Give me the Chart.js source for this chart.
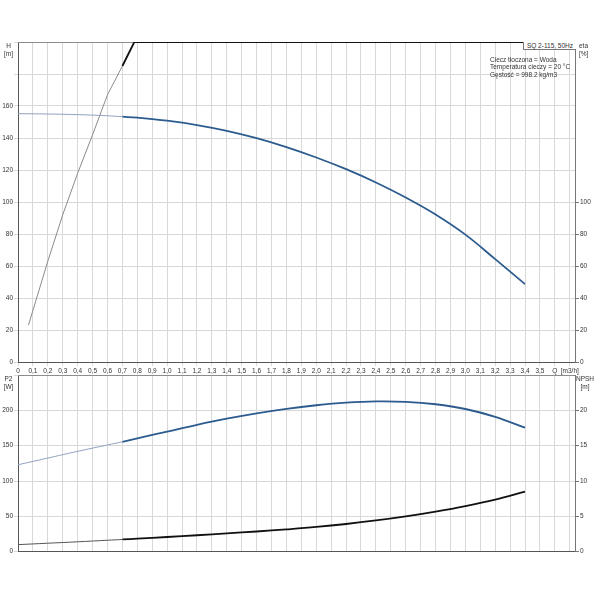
<!DOCTYPE html>
<html>
<head>
<meta charset="utf-8">
<script src="https://cdn.jsdelivr.net/npm/chart.js@4/dist/chart.umd.min.js"></script>
<style>
    body { margin: 0; background: #fff; }
    #wrap { position: relative; width: 600px; height: 600px; overflow: hidden; }
    canvas { position: absolute; left: 0; }
    #topChart { top: 0; }
    #bottomChart { top: 370px; }
    .lbl {
        position: absolute;
        font: 6.5px 'Liberation Sans', Arial, sans-serif;
        color: #333;
        line-height: 8px;
        white-space: nowrap;
    }
    .c { text-align: center; }
    #infoBox {
        position: absolute; left: 523px; top: 42px; width: 52px; height: 7px;
        border-left: 1px solid #777; border-bottom: 1px solid #777;
        font: 6.5px 'Liberation Sans', Arial, sans-serif; color: #333;
        line-height: 7.5px; text-align: center; background: #fff;
    }
</style>
</head>
<body>
<div id="wrap">
    <canvas id="topChart" width="600" height="380"></canvas>
    <canvas id="bottomChart" width="600" height="230"></canvas>

    <div class="lbl c" style="left:0;top:41.7px;width:17px">H<br>[m]</div>
    <div class="lbl" style="left:579px;top:41.7px">eta<br>[%]</div>
    <div class="lbl c" style="left:0;top:375px;width:17px">P2<br>[W]</div>
    <div class="lbl c" style="left:570px;top:375px;width:30px">NPSH<br>[m]</div>

    <div id="infoBox">SQ 2-115, 50Hz</div>
    <div class="lbl" style="left:490px;top:55.5px;line-height:7.5px">Ciecz tłoczona = Woda<br>Temperatura cieczy = 20 °C<br>Gęstość = 998.2 kg/m3</div>
</div>

<script>

// Q [m3/h] points for the pump curves
const flowQ = [0, 0.2, 0.4, 0.6, 0.7, 0.8, 1.0, 1.2, 1.4, 1.6, 1.8, 2.0, 2.2, 2.4, 2.6, 2.8, 3.0, 3.2, 3.4];
// H [m]
const headH = [155.2, 155.0, 154.6, 153.9, 153.3, 152.7, 150.8, 148.1, 144.5, 139.9, 134.3, 127.8, 120.5, 112.2, 102.8, 92.2, 79.6, 64.3, 48.7];
// P2 [W]
const powerP2 = [123, 132.5, 142, 151, 155.5, 160.5, 170, 179.5, 188.2, 195.8, 202.2, 207.2, 210.8, 212.6, 212.0, 208.6, 201.9, 190.8, 175.5];
// NPSH [m]
const npsh = [1.0, 1.2, 1.4, 1.62, 1.73, 1.84, 2.08, 2.33, 2.6, 2.86, 3.16, 3.5, 3.92, 4.42, 5.0, 5.68, 6.46, 7.38, 8.5];

// eta [%] - runs off the top of the chart after ~0.78
const etaQ = [0.07, 0.2, 0.3, 0.4, 0.5, 0.6, 0.7, 0.78, 3.4];
const etaVals = [23, 63, 92, 118, 142, 167, 185, 200, 200];

// x tick positions, 0 .. 3.7
const qTicks = [];
for (let i = 0; i <= 37; i++) qTicks.push(i / 10);

// operating range starts here (thin line before, thick after)
const splitQ = 0.7;

const FONT = "'Liberation Sans', Arial, sans-serif";
const GRID = '#d9d9d9';

Chart.defaults.font.family = FONT;
Chart.defaults.font.size = 6.5;
Chart.defaults.color = '#333';

let topChart, bottomChart;

// pick the points of a curve between two Q values
function part(xs, ys, from, to) {
    const pts = [];
    xs.forEach((x, i) => {
        if (x >= from - 1e-9 && x <= to + 1e-9) pts.push({ x: x, y: ys[i] });
    });
    return pts;
}

function curve(data, color, width, axis, smooth) {
    return {
        data: data,
        borderColor: color,
        borderWidth: width,
        pointRadius: 0,
        fill: false,
        yAxisID: axis,
        tension: smooth ? 0.4 : 0
    };
}

function qLabel(value) {
    const v = Math.round(value * 10) / 10;
    if (v === 0) return '0';
    if (v === 3.6) return 'Q';
    if (v === 3.7) return '[m3/h]';
    return v.toFixed(1).replace('.', ',');
}

// grey line along the top of the plot area
const framePlugin = {
    id: 'frame',
    beforeDatasetsDraw(chart) {
        const a = chart.chartArea;
        const ctx = chart.ctx;
        ctx.save();
        ctx.strokeStyle = '#8c8c8c';
        ctx.lineWidth = 1;
        ctx.beginPath();
        ctx.moveTo(a.left, a.top + 0.5);
        ctx.lineTo(a.right, a.top + 0.5);
        ctx.stroke();
        ctx.restore();
    }
};

function xScale(showLabels, height) {
    return {
        type: 'linear',
        min: 0,
        max: 3.735,
        afterBuildTicks: s => { s.ticks = qTicks.map(v => ({ value: v })); },
        ticks: {
            autoSkip: false,
            maxRotation: 0,
            display: showLabels,
            padding: 1,
            callback: qLabel
        },
        grid: { color: GRID, tickLength: 4, drawTicks: showLabels },
        border: { color: '#555' },
        afterFit: s => { s.height = height; }
    };
}

function yScale(pos, max, step, maxLabel, width, onChart) {
    return {
        type: 'linear',
        position: pos,
        min: 0,
        max: max,
        ticks: {
            stepSize: step,
            padding: 1,
            callback: v => (v <= maxLabel ? v : '')
        },
        grid: { color: onChart ? GRID : '#777', tickLength: 4, drawOnChartArea: onChart },
        border: { color: pos === 'left' ? '#555' : '#777' },
        afterBuildTicks: onChart ? undefined : s => { s.ticks = s.ticks.filter(t => t.value <= maxLabel); },
        afterFit: s => { s.width = width; }
    };
}

function createTopChart() {
    const ctx = document.getElementById('topChart');

    topChart = new Chart(ctx, {
        type: 'line',
        data: {
            datasets: [
                curve(part(flowQ, headH, 0, splitQ), '#8fa2bf', 1, 'y', true),
                curve(part(flowQ, headH, splitQ, 3.4), '#2c5b8e', 1.8, 'y', true),
                curve(part(etaQ, etaVals, 0, splitQ), '#8a8a8a', 1, 'yEta', false),
                curve(part(etaQ, etaVals, splitQ, 3.4), '#111', 1.8, 'yEta', false)
            ]
        },
        options: {
            responsive: false,
            animation: false,
            devicePixelRatio: 1,
            layout: { padding: { top: 42, left: 0, right: 0, bottom: 0 } },
            plugins: { legend: { display: false }, tooltip: { enabled: false } },
            scales: {
                x: xScale(true, 18),
                y: yScale('left', 200, 20, 160, 18, true),
                yEta: yScale('right', 200, 20, 100, 25, false)
            }
        },
        plugins: [framePlugin]
    });
}

function createBottomChart() {
    const ctx = document.getElementById('bottomChart');

    bottomChart = new Chart(ctx, {
        type: 'line',
        data: {
            datasets: [
                curve(part(flowQ, powerP2, 0, splitQ), '#8fa2bf', 1, 'y', true),
                curve(part(flowQ, powerP2, splitQ, 3.4), '#2c5b8e', 1.8, 'y', true),
                curve(part(flowQ, npsh, 0, splitQ), '#555', 1, 'yNpsh', true),
                curve(part(flowQ, npsh, splitQ, 3.4), '#111', 1.8, 'yNpsh', true)
            ]
        },
        options: {
            responsive: false,
            animation: false,
            devicePixelRatio: 1,
            layout: { padding: { top: 5, left: 0, right: 0, bottom: 0 } },
            plugins: { legend: { display: false }, tooltip: { enabled: false } },
            scales: {
                x: xScale(false, 48.3),
                y: yScale('left', 250, 50, 200, 18, true),
                yNpsh: yScale('right', 25, 5, 20, 25, false)
            }
        },
        plugins: [framePlugin]
    });
}

createTopChart();
createBottomChart();
</script>
</body>
</html>
